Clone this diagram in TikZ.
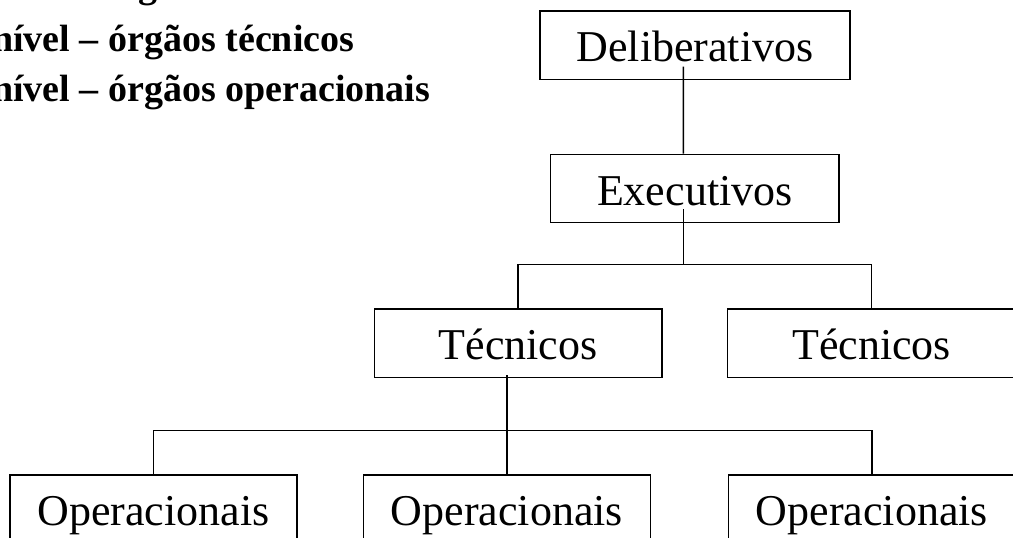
\documentclass[tikz,border=0pt]{standalone}
\usepackage{fontspec}
\setmainfont{Liberation Serif}
\usepackage{tikz}
\usetikzlibrary{calc}

\tikzset{
  orgao/.style={draw, line width=1.1pt, inner sep=0pt, minimum height=51.2pt,
    text height=24.75pt, text depth=0pt, font=\fontsize{33}{40}\selectfont},
  nivel/.style={anchor=base west, inner sep=0pt, font=\fontsize{28.5}{34}\selectfont\bfseries},
  liga/.style={line width=1.1pt}
}

\begin{document}
\begin{tikzpicture}[x=0.75pt, y=-0.75pt]
    \useasboundingbox (0,0) rectangle (1013,537);
    \clip (0,0) rectangle (1013,537);

    \node (n1) [nivel] at (-14,-3) {nível – órgãos deliberativos};
    \node (n2) [nivel] at (-8,51.7) {nível – órgãos técnicos};
    \node (n3) [nivel] at (-8,101.7) {nível – órgãos operacionais};

    \node (delib) [orgao, minimum width=232.5pt] at (695,45.2) {Deliberativos};
    \node (exec) [orgao, minimum width=216.2pt] at (694.8,188.5) {Executivos};
    \node (tec1) [orgao, minimum width=215.8pt] at (518.2,343.1) {Técnicos};
    \node (tec2) [orgao, minimum width=215.8pt] at (871.6,343.1) {Técnicos};
    \node (op1) [orgao, minimum width=215.5pt] at (153.5,509.2) {Operacionais};
    \node (op2) [orgao, minimum width=215.5pt] at (507,509.2) {Operacionais};
    \node (op3) [orgao, minimum width=215.5pt] at (872,509.2) {Operacionais};

    \coordinate (tbar) at (683.3,264.7);
    \coordinate (obar) at (507,430.7);

    \draw [liga] ([shift={(-11.7,21.5)}]delib.center) -- ([shift={(-11.5,0)}]exec.north);
    \draw [liga] ([shift={(-11.5,20.8)}]exec.center) -- (tbar);
    \draw [liga] (tec1.north) |- (tbar) -| (tec2.north);
    \draw [liga] ([shift={(-11.2,32)}]tec1.center) -- (op2.north);
    \draw [liga] (op1.north) |- (obar) -| (op3.north);
\end{tikzpicture}
\end{document}
